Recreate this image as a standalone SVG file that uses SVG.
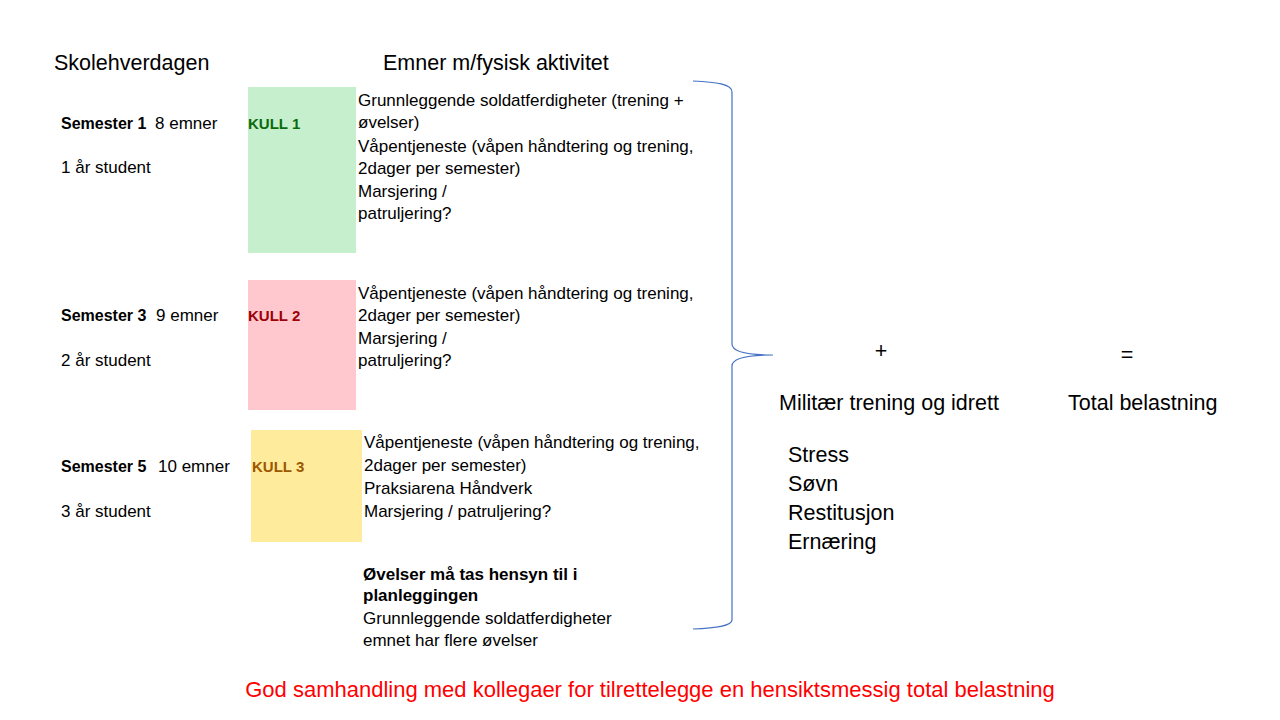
<svg xmlns="http://www.w3.org/2000/svg" width="1280" height="720" viewBox="0 0 1280 720">
<style>
text{font-family:"Liberation Sans",Arial,sans-serif;fill:#000}
.b{font-size:17px}
.bd{font-size:16px;font-weight:bold}
.bo{font-size:17px;font-weight:bold}
.h{font-size:21.5px}
.k1{font-size:15px;font-weight:bold;fill:#0B6B0B}
.k2{font-size:15px;font-weight:bold;fill:#9C0006}
.k3{font-size:15px;font-weight:bold;fill:#9C5700}
.red{font-size:22px;fill:#FF0000}
</style>
<rect width="1280" height="720" fill="#fff"/>
<g id="headers">
<text class="h" x="54" y="70">Skolehverdagen</text>
<text class="h" x="383" y="70">Emner m/fysisk aktivitet</text>
</g>
<g id="kull1">
<rect x="248" y="87" width="108" height="166" fill="#C6EFCE"/>
<text class="k1" x="248" y="129">KULL 1</text>
<text class="bd" x="61" y="129">Semester 1</text>
<text class="b" x="155" y="129">8 emner</text>
<text class="b" x="61" y="173">1 år student</text>
<text class="b" x="358" y="106">Grunnleggende soldatferdigheter (trening +</text>
<text class="b" x="358" y="128">øvelser)</text>
<text class="b" x="358" y="152">Våpentjeneste (våpen håndtering og trening,</text>
<text class="b" x="358" y="174">2dager per semester)</text>
<text class="b" x="358" y="197">Marsjering /</text>
<text class="b" x="358" y="219">patruljering?</text>
</g>
<g id="kull2">
<rect x="248" y="280" width="108" height="130" fill="#FFC7CE"/>
<text class="k2" x="248" y="321">KULL 2</text>
<text class="bd" x="61" y="321">Semester 3</text>
<text class="b" x="156" y="321">9 emner</text>
<text class="b" x="61" y="366">2 år student</text>
<text class="b" x="358" y="299">Våpentjeneste (våpen håndtering og trening,</text>
<text class="b" x="358" y="321">2dager per semester)</text>
<text class="b" x="358" y="344">Marsjering /</text>
<text class="b" x="358" y="366">patruljering?</text>
</g>
<g id="kull3">
<rect x="251" y="430" width="111" height="112" fill="#FFEB9C"/>
<text class="k3" x="252" y="472">KULL 3</text>
<text class="bd" x="61" y="472">Semester 5</text>
<text class="b" x="158" y="472">10 emner</text>
<text class="b" x="61" y="517">3 år student</text>
<text class="b" x="364" y="448">Våpentjeneste (våpen håndtering og trening,</text>
<text class="b" x="364" y="471">2dager per semester)</text>
<text class="b" x="364" y="494">Praksiarena Håndverk</text>
<text class="b" x="364" y="517">Marsjering / patruljering?</text>
</g>
<g id="ovelser">
<text class="bo" x="363" y="580">Øvelser må tas hensyn til i</text>
<text class="bo" x="363" y="601">planleggingen</text>
<text class="b" x="363" y="624">Grunnleggende soldatferdigheter</text>
<text class="b" x="363" y="646">emnet har flere øvelser</text>
</g>
<g id="connectors">
<path d="M693,81 C716,82 732,84 732,92 L732,344 C732,352 748,355 773,355 C748,355 732,358 732,366 L732,620 C732,626 716,628 693,629" fill="none" stroke="#4472C4" stroke-width="1.2"/>
</g>
<g id="right">
<text class="h" x="881" y="358" text-anchor="middle">+</text>
<text class="h" x="1127" y="362" text-anchor="middle">=</text>
<text class="h" x="779" y="410">Militær trening og idrett</text>
<text class="h" x="1068" y="410">Total belastning</text>
<text class="h" x="788" y="462">Stress</text>
<text class="h" x="788" y="491">Søvn</text>
<text class="h" x="788" y="520">Restitusjon</text>
<text class="h" x="788" y="549">Ernæring</text>
</g>
<g id="footer">
<text class="red" x="650" y="697" text-anchor="middle">God samhandling med kollegaer for tilrettelegge en hensiktsmessig total belastning</text>
</g>
</svg>
